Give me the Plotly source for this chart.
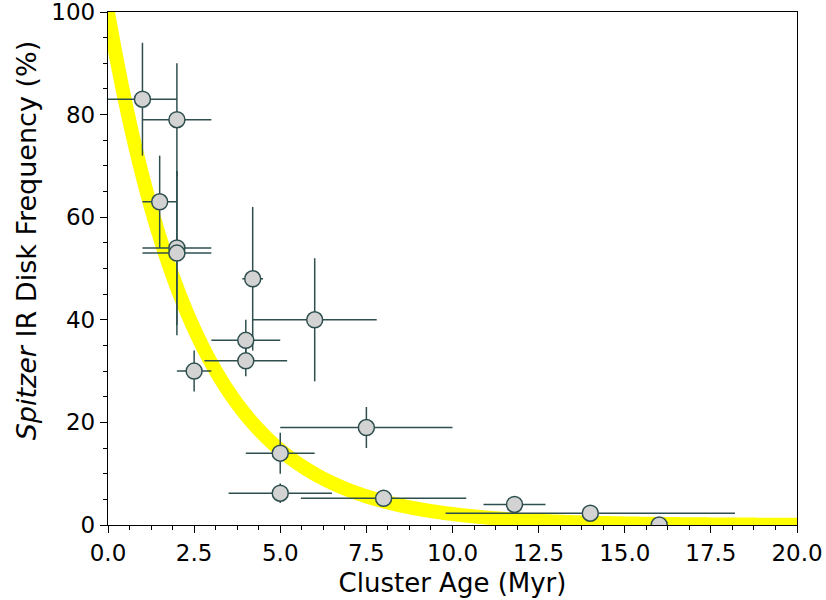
import numpy as np
import plotly.graph_objects as go

# Cluster ages (Myr) and Spitzer IR disk fractions (%)
age = [1.0, 2.0, 1.5, 2.0, 2.0, 4.2, 6.0, 4.0, 4.0, 2.5, 7.5, 5.0, 5.0, 8.0, 11.8, 14.0, 16.0]
disk_freq = [83, 79, 63, 54, 53, 48, 40, 36, 32, 30, 19, 14, 6.2, 5.2, 4.0, 2.3, 0.0]
age_err = [1.0, 1.0, 0.5, 1.0, 1.0, 0.3, 1.8, 1.0, 1.2, 0.5, 2.5, 1.0, 1.5, 2.4, 0.9, 4.2, 0.0]
freq_err = [11, 11, 9, 15, 16, 14, 12, 4, 3, 4, 4, 4, 1.9, 1.0, 1.0, 1.0, 0.0]

# Exponential decay model for the disk fraction
tau_myr = 2.6
model_t = np.linspace(0, 20, 800)
model_f = 100 * np.exp(-model_t / tau_myr)

x_ticks = [0, 2.5, 5, 7.5, 10, 12.5, 15, 17.5, 20]
y_ticks = [0, 20, 40, 60, 80, 100]

edge = "#2f4f4f"
font = "DejaVu Sans"

fig = go.Figure()
fig.add_trace(go.Scatter(
    x=model_t, y=model_f, mode="lines",
    line=dict(color="#ffff00", width=14, simplify=False),
    hoverinfo="skip", showlegend=False,
))
fig.add_trace(go.Scatter(
    x=age, y=disk_freq, mode="markers",
    marker=dict(size=16, color="#d3d3d3", line=dict(color=edge, width=1.5)),
    error_x=dict(type="data", array=age_err, color=edge, thickness=1.5, width=0),
    error_y=dict(type="data", array=freq_err, color=edge, thickness=1.5, width=0),
    showlegend=False,
))

axis_common = dict(
    showgrid=False, zeroline=False, showline=True, linecolor="black", linewidth=1.3,
    mirror=True, ticks="outside", ticklen=7, tickwidth=1.3, tickcolor="black",
    tickfont=dict(family=font, size=23, color="black"), automargin=False,
    ticklabeloverflow="allow",
)

fig.update_xaxes(
    range=[0, 20], tickvals=x_ticks, ticktext=[f"{v:.1f}" for v in x_ticks],
    title=dict(text="Cluster Age (Myr)", font=dict(family=font, size=26, color="black"), standoff=9),
    minor=dict(dtick=0.625, ticks="outside", ticklen=4, tickwidth=1, tickcolor="black"),
    **axis_common,
)
fig.update_yaxes(
    range=[0, 100], tickvals=y_ticks, ticktext=[str(v) for v in y_ticks],
    minor=dict(dtick=5, ticks="outside", ticklen=4, tickwidth=1, tickcolor="black"),
    **axis_common,
)

# Y-axis label placed as a rotated annotation
fig.add_annotation(
    text="<i>Spitzer</i> IR Disk Frequency (%)",
    xref="paper", yref="paper", x=-0.119, y=0.555,
    xanchor="center", yanchor="middle", textangle=-90, showarrow=False,
    font=dict(family=font, size=27, color="black"),
)

fig.update_layout(
    width=826, height=600,
    margin=dict(l=108, r=29, t=12, b=75),
    paper_bgcolor="white", plot_bgcolor="white",
    font=dict(family=font),
)

fig.write_html("out.html")
